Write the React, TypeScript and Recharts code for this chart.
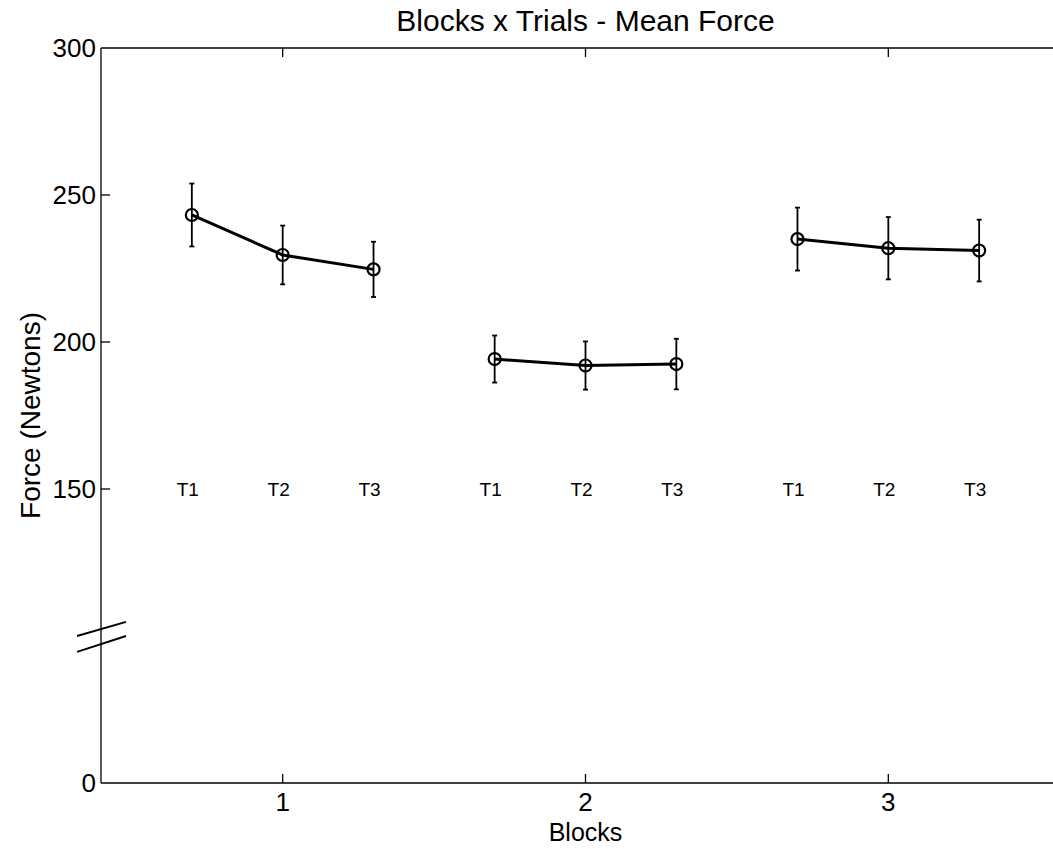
import React from 'react';
import { ComposedChart, Line, Scatter, XAxis, YAxis, ErrorBar, ReferenceLine } from 'recharts';

// ---- data ----
const blockPositions = [1, 2, 3];
const trialLabels = ['T1', 'T2', 'T3'];
const trialOffsets = [-0.3, 0, 0.3];

const block1Mean = [243.2, 229.6, 224.7];
const block1Err = [10.7, 10.0, 9.4];
const block2Mean = [194.2, 192.0, 192.5];
const block2Err = [8.0, 8.2, 8.6];
const block3Mean = [235.0, 231.9, 231.1];
const block3Err = [10.7, 10.6, 10.5];

const xTicks = [1, 2, 3];
const yTickValues = [50, 150, 200, 250, 300];
const yTickLabels = ['0', '150', '200', '250', '300'];
const trialLabelLevel = 150;

const xDomain = [0.4, 3.6];
const yDomain = [50, 300];

// axis break marks (in data units)
const breakX = [0.321, 0.4825];
const breakUpper = [100.0, 104.8];
const breakLower = [94.6, 100.0];

// inward tick lengths in data units (~9px)
const tickLenX = 0.03;
const tickLenY = 3.06;

const means = [block1Mean, block2Mean, block3Mean];
const errs = [block1Err, block2Err, block3Err];

const blockSeries = blockPositions.map((b, bi) =>
  trialOffsets.map((o, ti) => ({ x: b + o, y: means[bi][ti], err: errs[bi][ti] }))
);

const labelData = blockPositions.flatMap((b) =>
  trialOffsets.map((o, ti) => ({ x: b + o, y: trialLabelLevel, label: trialLabels[ti] }))
);

const FONT = '"Liberation Sans", Arial, Helvetica, sans-serif';
const AX = { stroke: '#000', strokeWidth: 1.3 };

const TrialLabel = (props: any) => {
  const { cx, cy, payload } = props;
  return (
    <text x={cx - 4} y={cy} textAnchor="middle" dominantBaseline="central" fontSize={19} fill="#000" fontFamily={FONT}>
      {payload.label}
    </text>
  );
};

const blank = () => '';

export default function App() {
  const tickSegments: { x: number; y: number }[][] = [
    ...yTickValues.filter((v) => v !== yDomain[0] && v !== yDomain[1]).map((v) => [
      { x: xDomain[0], y: v },
      { x: xDomain[0] + tickLenX, y: v },
    ]),
    ...xTicks.map((t) => [
      { x: t, y: yDomain[0] },
      { x: t, y: yDomain[0] + tickLenY },
    ]),
    ...xTicks.map((t) => [
      { x: t, y: yDomain[1] },
      { x: t, y: yDomain[1] - tickLenY },
    ]),
  ];

  return (
    <div style={{ position: 'fixed', left: 0, top: 0, width: 1053, height: 849, overflow: 'hidden', background: '#fff' }}>
      <ComposedChart width={1100} height={849} margin={{ top: 48, right: 30, bottom: 0, left: 0 }} style={{ fontFamily: FONT }}>
        <XAxis
          xAxisId={0}
          dataKey="x"
          type="number"
          domain={xDomain}
          ticks={xTicks}
          allowDataOverflow
          height={66}
          tickLine={false}
          tickSize={0}
          tickMargin={10}
          tick={{ fill: '#000', fontSize: 26 }}
          axisLine={AX}
          label={{ value: 'Blocks', position: 'insideBottom', offset: 8, style: { fontSize: 25, fill: '#000' } }}
        />
        <XAxis
          xAxisId="top"
          orientation="top"
          mirror
          type="number"
          domain={xDomain}
          ticks={xTicks}
          allowDataOverflow
          height={20}
          tickLine={false}
          tickFormatter={blank}
          axisLine={AX}
          label={{ value: 'Blocks x Trials - Mean Force', position: 'top', offset: 17, style: { fontSize: 30, fill: '#000' } }}
        />
        <YAxis
          dataKey="y"
          type="number"
          domain={yDomain}
          ticks={yTickValues}
          allowDataOverflow
          width={101}
          tickLine={false}
          tickSize={0}
          tickMargin={5}
          tickFormatter={(v: number) => yTickLabels[yTickValues.indexOf(v)]}
          tick={{ fill: '#000', fontSize: 26 }}
          axisLine={AX}
          label={{ value: 'Force (Newtons)', angle: -90, position: 'insideLeft', offset: 30, style: { textAnchor: 'middle', fontSize: 28, fill: '#000' } }}
        />
        {tickSegments.map((seg, i) => (
          <ReferenceLine key={'t' + i} segment={seg} stroke="#000" strokeWidth={1.3} ifOverflow="visible" />
        ))}
        {blockSeries.map((data, i) => (
          <Line
            key={i}
            data={data}
            dataKey="y"
            stroke="#000"
            strokeWidth={3}
            dot={{ r: 6, stroke: '#000', strokeWidth: 2.2, fill: 'none' }}
            activeDot={false}
            isAnimationActive={false}
          >
            <ErrorBar dataKey="err" direction="y" width={2.5} strokeWidth={1.8} stroke="#000" isAnimationActive={false} />
          </Line>
        ))}
        <Scatter data={labelData} dataKey="y" shape={TrialLabel} isAnimationActive={false} />
        <ReferenceLine
          segment={[{ x: breakX[0], y: breakUpper[0] }, { x: breakX[1], y: breakUpper[1] }]}
          stroke="#000"
          strokeWidth={2}
          ifOverflow="visible"
        />
        <ReferenceLine
          segment={[{ x: breakX[0], y: breakLower[0] }, { x: breakX[1], y: breakLower[1] }]}
          stroke="#000"
          strokeWidth={2}
          ifOverflow="visible"
        />
      </ComposedChart>
    </div>
  );
}
